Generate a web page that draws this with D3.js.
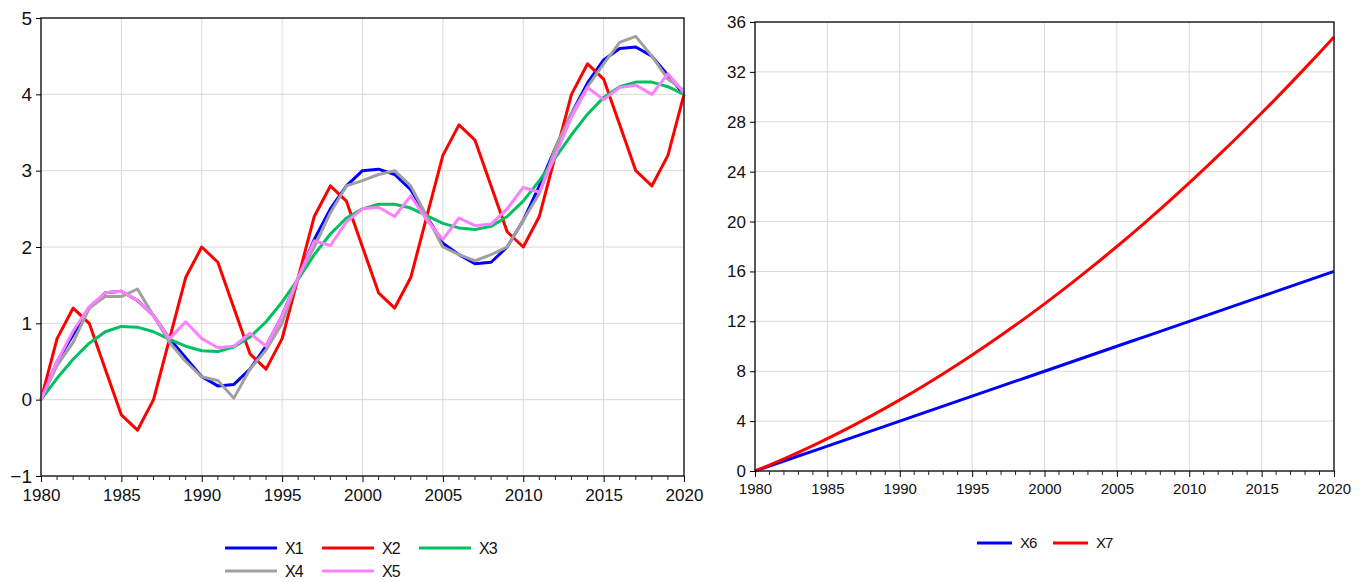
<!DOCTYPE html>
<html>
<head>
  <meta charset="utf-8">
  <title>X1-X7</title>
  <script src="https://cdn.jsdelivr.net/npm/d3@7/dist/d3.min.js"></script>
  <style>
    body { margin: 0; background: #fff; }
    svg { display: block; font-family: "Liberation Sans", Arial, sans-serif; }
  </style>
</head>
<body>
  <svg width="1367" height="582"></svg>

  <script>
    // years 1980..2020
    const years = d3.range(1980, 2021);

    const x1 = [0, 0.5, 0.85, 1.2, 1.4, 1.42, 1.3, 1.1, 0.8, 0.55, 0.3, 0.18, 0.2, 0.4, 0.7, 1.1, 1.6, 2.1, 2.5, 2.8,
                3.0, 3.02, 2.95, 2.75, 2.4, 2.05, 1.9, 1.78, 1.8, 2.0, 2.35, 2.8, 3.3, 3.75, 4.15, 4.45, 4.6, 4.62, 4.5, 4.25, 4.0];
    const x2 = [0, 0.8, 1.2, 1.0, 0.4, -0.2, -0.4, 0.0, 0.8, 1.6, 2.0, 1.8, 1.2, 0.6, 0.4, 0.8, 1.6, 2.4, 2.8, 2.6,
                2.0, 1.4, 1.2, 1.6, 2.4, 3.2, 3.6, 3.4, 2.8, 2.2, 2.0, 2.4, 3.2, 4.0, 4.4, 4.2, 3.6, 3.0, 2.8, 3.2, 4.0];
    const x3 = [0, 0.28, 0.53, 0.74, 0.89, 0.96, 0.95, 0.89, 0.79, 0.7, 0.64, 0.63, 0.69, 0.82, 1.02, 1.28, 1.58, 1.9, 2.17, 2.38,
                2.5, 2.56, 2.56, 2.51, 2.41, 2.31, 2.25, 2.23, 2.27, 2.4, 2.6, 2.87, 3.17, 3.47, 3.74, 3.96, 4.1, 4.16, 4.16, 4.1, 4.0];
    const x4 = [0, 0.45, 0.75, 1.2, 1.35, 1.35, 1.45, 1.1, 0.75, 0.5, 0.3, 0.25, 0.02, 0.4, 0.65, 1.0, 1.6, 2.0, 2.45, 2.8,
                2.87, 2.95, 3.0, 2.8, 2.4, 2.0, 1.9, 1.82, 1.9, 2.0, 2.35, 2.7, 3.3, 3.75, 4.1, 4.4, 4.68, 4.76, 4.5, 4.2, 4.05];
    const x5 = [0, 0.5, 0.9, 1.22, 1.4, 1.42, 1.3, 1.1, 0.8, 1.02, 0.8, 0.68, 0.7, 0.87, 0.7, 1.1, 1.6, 2.08, 2.02, 2.33,
                2.5, 2.52, 2.4, 2.67, 2.35, 2.1, 2.38, 2.28, 2.3, 2.5, 2.78, 2.72, 3.2, 3.7, 4.09, 3.93, 4.09, 4.12, 4.0, 4.27, 4.02];

    const x6 = [0, 0.4, 0.8, 1.2, 1.6, 2.0, 2.4, 2.8, 3.2, 3.6, 4.0, 4.4, 4.8, 5.2, 5.6, 6.0, 6.4, 6.8, 7.2, 7.6,
                8.0, 8.4, 8.8, 9.2, 9.6, 10.0, 10.4, 10.8, 11.2, 11.6, 12.0, 12.4, 12.8, 13.2, 13.6, 14.0, 14.4, 14.8, 15.2, 15.6, 16.0];
    const x7 = [0, 0.48, 0.98, 1.50, 2.04, 2.60, 3.18, 3.78, 4.40, 5.04, 5.70, 6.38, 7.08, 7.80, 8.54, 9.30, 10.08, 10.88, 11.70, 12.54,
                13.40, 14.28, 15.18, 16.10, 17.04, 18.00, 18.98, 19.98, 21.00, 22.04, 23.10, 24.18, 25.28, 26.40, 27.54, 28.70,
                29.88, 31.08, 32.30, 33.54, 34.80];

    const leftTicks = [-1, 0, 1, 2, 3, 4, 5];
    const rightTicks = [0, 4, 8, 12, 16, 20, 24, 28, 32, 36];
    const xTicks = [1980, 1985, 1990, 1995, 2000, 2005, 2010, 2015, 2020];

    const svg = d3.select("svg");

    function drawPanel(box, series, yDomain, yTicks, opt) {
      const xScale = d3.scaleLinear().domain([1980, 2020]).range([box.left, box.right]);
      const yScale = d3.scaleLinear().domain(yDomain).range([box.bottom, box.top]);
      const g = svg.append("g");

      // grid
      g.selectAll("line.vg").data(xTicks.slice(1, -1)).enter().append("line")
        .attr("x1", d => xScale(d)).attr("x2", d => xScale(d))
        .attr("y1", box.top).attr("y2", box.bottom)
        .attr("stroke", "#d9d9d9").attr("stroke-width", 1);
      g.selectAll("line.hg").data(yTicks.slice(1, -1)).enter().append("line")
        .attr("x1", box.left).attr("x2", box.right)
        .attr("y1", d => yScale(d)).attr("y2", d => yScale(d))
        .attr("stroke", "#d9d9d9").attr("stroke-width", 1);

      // lines
      const line = d3.line().x((d, i) => xScale(years[i])).y(d => yScale(d));
      series.forEach(s => {
        g.append("path")
          .attr("fill", "none")
          .attr("stroke", s.color)
          .attr("stroke-width", 3)
          .attr("stroke-linejoin", "round")
          .attr("d", line(s.values));
      });

      // frame
      g.append("rect")
        .attr("x", box.left).attr("y", box.top)
        .attr("width", box.right - box.left).attr("height", box.bottom - box.top)
        .attr("fill", "none").attr("stroke", "#222").attr("stroke-width", 1.5);

      // y axis
      const yAxis = d3.axisLeft(yScale).tickValues(yTicks).tickFormat(d3.format("d")).tickSize(5).tickPadding(4);
      const ya = g.append("g").attr("transform", `translate(${box.left},0)`).call(yAxis);
      ya.attr("font-size", null).attr("font-family", null);
      ya.select(".domain").remove();
      ya.selectAll("text").style("font-size", opt.yFont + "px").attr("fill", "#111");

      // x axis major + minor ticks
      const xa = g.append("g").attr("transform", `translate(0,${box.bottom})`)
        .call(d3.axisBottom(xScale).tickValues(xTicks).tickFormat(d3.format("d")).tickSize(6).tickPadding(opt.xPad));
      xa.attr("font-size", null).attr("font-family", null);
      xa.select(".domain").remove();
      xa.selectAll("text").style("font-size", opt.xFont + "px").attr("fill", "#111");
      g.selectAll("line.minor").data(years.filter(y => y % 5 !== 0)).enter().append("line")
        .attr("x1", d => xScale(d)).attr("x2", d => xScale(d))
        .attr("y1", box.bottom).attr("y2", box.bottom + 4)
        .attr("stroke", "#222").attr("stroke-width", 1);

      // legend
      series.forEach((s, i) => {
        const col = i % opt.legendCols, row = Math.floor(i / opt.legendCols);
        const lx = opt.legendX + col * opt.legendDx, ly = opt.legendY + row * 23;
        g.append("line").attr("x1", lx).attr("x2", lx + opt.legendLen).attr("y1", ly).attr("y2", ly)
          .attr("stroke", s.color).attr("stroke-width", 3);
        g.append("text").attr("x", lx + opt.legendLen + 8).attr("y", ly).attr("dy", "0.35em")
          .style("font-size", opt.legendFont + "px").attr("fill", "#111")
          .attr("letter-spacing", "-1px").text(s.name);
      });
    }

    drawPanel({ left: 41, right: 684, top: 18, bottom: 476 },
      [
        { name: "X1", color: "#0000ff", values: x1 },
        { name: "X2", color: "#ff0000", values: x2 },
        { name: "X3", color: "#00c060", values: x3 },
        { name: "X4", color: "#a0a0a0", values: x4 },
        { name: "X5", color: "#ff80ff", values: x5 }
      ],
      [-1, 5], leftTicks,
      { yFont: 19, xFont: 17, xPad: 7, legendFont: 16, legendCols: 3, legendDx: 97, legendLen: 52, legendX: 225, legendY: 548 });

    drawPanel({ left: 755, right: 1334, top: 22, bottom: 471 },
      [
        { name: "X6", color: "#0000ff", values: x6 },
        { name: "X7", color: "#ff0000", values: x7 }
      ],
      [0, 36], rightTicks,
      { yFont: 17, xFont: 15, xPad: 6, legendFont: 15, legendCols: 2, legendDx: 76, legendLen: 35, legendX: 977, legendY: 543 });
  </script>
</body>
</html>
